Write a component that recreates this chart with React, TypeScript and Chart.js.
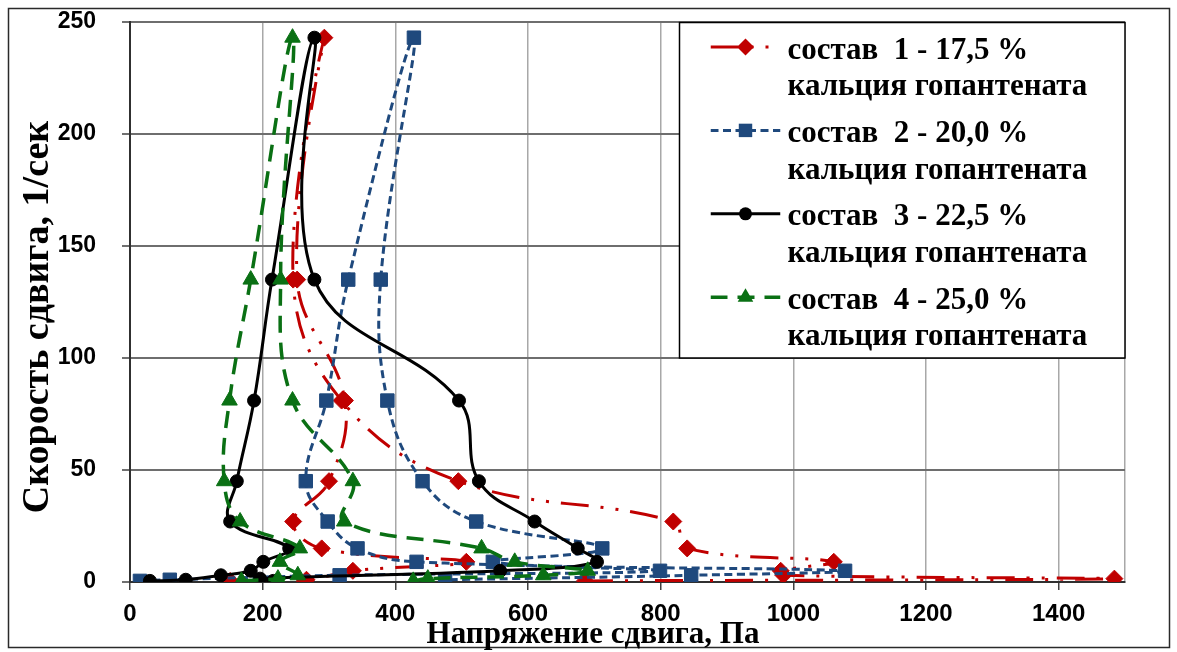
import { useEffect, useRef } from 'react';
import { Chart, registerables } from 'chart.js';

Chart.register(...registerables);

// Shear rate (1/сек) and shear stress (Па) for each run: up the rate ladder, then back down
const rate1 = [0.5, 1.5, 3, 5, 9, 15, 27, 45, 81, 135, 243, 135, 81, 45, 27, 15, 9, 5, 1, 0.5];
const stress1 = [686, 1484, 985, 981, 1061, 840, 819, 495, 319, 246, 293, 252, 324, 300, 246, 289, 507, 336, 266, 151];

const rate2 = [0.5, 1, 3, 5, 9, 15, 27, 45, 81, 135, 243, 135, 81, 45, 27, 15, 9, 5, 3, 1];
const stress2 = [15, 60, 316, 799, 547, 712, 522, 441, 388, 378, 428, 329, 296, 265, 298, 343, 432, 1078, 846, 475];

const rate3 = [0.5, 1, 3, 5, 9, 15, 27, 45, 81, 135, 243, 135, 81, 45, 27, 15, 9, 5, 1.5, 0.5];
const stress3 = [30, 84, 137, 182, 201, 240, 151, 161, 187, 214, 278, 278, 496, 526, 610, 675, 704, 558, 196, 216];

const rate4 = [0.5, 1.5, 3, 9, 15, 27, 45, 81, 135, 243, 135, 81, 45, 27, 15, 9, 5, 3, 1.5, 0.5];
const stress4 = [168, 223, 253, 226, 256, 166, 142, 150, 182, 245, 227, 245, 336, 323, 530, 580, 690, 623, 449, 427];

const seriesNames = [
  ['состав  1 - 17,5 %', 'кальция гопантената'],
  ['состав  2 - 20,0 %', 'кальция гопантената'],
  ['состав  3 - 22,5 %', 'кальция гопантената'],
  ['состав  4 - 25,0 %', 'кальция гопантената'],
];

const xTickValues = [0, 200, 400, 600, 800, 1000, 1200, 1400];
const xMax = 1500;
const yTickValues = [0, 50, 100, 150, 200, 250];
const xTitle = 'Напряжение сдвига, Па';
const yTitle = 'Скорость сдвига, 1/сек';

const RED = '#C00000';
const BLUE = '#1F497D';
const BLACK = '#000000';
const GREEN = '#0A7014';

const SERIF = '"Liberation Serif", "Times New Roman", serif';
const SANS = '"Liberation Sans", Arial, sans-serif';

const toPoints = (stress: number[], rate: number[]) => stress.map((x, i) => ({ x, y: rate[i] }));

function drawMarker(ctx: CanvasRenderingContext2D, style: string, x: number, y: number, r: number) {
  ctx.beginPath();
  if (style === 'rectRot') {
    ctx.moveTo(x, y - r);
    ctx.lineTo(x + r, y);
    ctx.lineTo(x, y + r);
    ctx.lineTo(x - r, y);
  } else if (style === 'rect') {
    const h = r * Math.SQRT1_2;
    ctx.rect(x - h, y - h, 2 * h, 2 * h);
  } else if (style === 'triangle') {
    const a = (2 * Math.PI) / 3;
    ctx.moveTo(x, y - r);
    ctx.lineTo(x + Math.sin(a) * r, y - Math.cos(a) * r);
    ctx.lineTo(x + Math.sin(2 * a) * r, y - Math.cos(2 * a) * r);
  } else {
    ctx.arc(x, y, r, 0, Math.PI * 2);
  }
  ctx.closePath();
  ctx.fill();
}

// Frame, axis titles and the boxed legend in the upper right of the plot
const decorations = {
  id: 'decorations',
  afterDraw(chart: any) {
    const { ctx, chartArea } = chart;
    ctx.save();

    // outer frame
    ctx.strokeStyle = '#2a2a2a';
    ctx.lineWidth = 1.5;
    ctx.setLineDash([]);
    ctx.strokeRect(8.5, 8.5, 1161, 639);

    // axis titles
    ctx.fillStyle = '#000';
    ctx.font = `bold 31px ${SERIF}`;
    ctx.textAlign = 'center';
    ctx.textBaseline = 'alphabetic';
    ctx.fillText(xTitle, chartArea.left + 463, chartArea.bottom + 61);

    ctx.save();
    ctx.translate(48, chartArea.top + 295);
    ctx.rotate(-Math.PI / 2);
    ctx.font = `bold 38px ${SERIF}`;
    ctx.fillText(yTitle, 0, 0);
    ctx.restore();

    // legend box
    const left = chartArea.right - 445.5;
    const top = chartArea.top + 0.5;
    const bottom = chartArea.top + 336;
    ctx.fillStyle = '#fff';
    ctx.fillRect(left, top, chartArea.right - left, bottom - top);
    ctx.strokeStyle = '#000';
    ctx.lineWidth = 1.5;
    ctx.strokeRect(left, top, chartArea.right - left, bottom - top);

    chart.data.datasets.forEach((ds: any, i: number) => {
      const base = top + 36 + i * 83.4;
      const sy = base - 11.5;
      ctx.save();
      ctx.beginPath();
      ctx.rect(left + 31, sy - 10, 70, 20);
      ctx.clip();
      ctx.strokeStyle = ds.borderColor;
      ctx.lineWidth = ds.borderWidth;
      ctx.setLineDash(ds.borderDash || []);
      ctx.beginPath();
      ctx.moveTo(left + 31, sy);
      ctx.lineTo(left + 101, sy);
      ctx.stroke();
      ctx.restore();
      ctx.fillStyle = ds.pointBackgroundColor;
      drawMarker(ctx, ds.pointStyle, left + 66, sy, ds.pointRadius);

      ctx.fillStyle = '#000';
      ctx.font = `bold 31px ${SERIF}`;
      ctx.textAlign = 'left';
      ctx.textBaseline = 'alphabetic';
      seriesNames[i].forEach((line, k) => {
        ctx.fillText(line, left + 108, base + k * 36.7);
      });
    });

    ctx.restore();
  },
};

export default function App() {
  const canvasRef = useRef<HTMLCanvasElement>(null);

  useEffect(() => {
    const canvas = canvasRef.current;
    if (!canvas) return;

    const common = { showLine: true, tension: 0.4, pointBorderWidth: 1 };

    const chart = new Chart(canvas, {
      type: 'scatter',
      data: {
        datasets: [
          {
            ...common,
            label: seriesNames[0].join(' '),
            data: toPoints(stress1, rate1),
            borderColor: RED,
            backgroundColor: RED,
            pointBackgroundColor: RED,
            pointBorderColor: RED,
            borderWidth: 3,
            borderDash: [28, 12, 3, 12, 3, 12],
            pointStyle: 'rectRot',
            pointRadius: 8.5,
            order: 3,
          },
          {
            ...common,
            label: seriesNames[1].join(' '),
            data: toPoints(stress2, rate2),
            borderColor: BLUE,
            backgroundColor: BLUE,
            pointBackgroundColor: BLUE,
            pointBorderColor: BLUE,
            borderWidth: 3,
            borderDash: [8, 4.5],
            pointStyle: 'rect',
            pointRadius: 9.5,
            order: 2,
          },
          {
            ...common,
            label: seriesNames[2].join(' '),
            data: toPoints(stress3, rate3),
            borderColor: BLACK,
            backgroundColor: BLACK,
            pointBackgroundColor: BLACK,
            pointBorderColor: BLACK,
            borderWidth: 3,
            borderDash: [],
            pointStyle: 'circle',
            pointRadius: 6.5,
            order: 1,
          },
          {
            ...common,
            label: seriesNames[3].join(' '),
            data: toPoints(stress4, rate4),
            borderColor: GREEN,
            backgroundColor: GREEN,
            pointBackgroundColor: GREEN,
            pointBorderColor: GREEN,
            borderWidth: 3.5,
            borderDash: [17, 10],
            pointStyle: 'triangle',
            pointRadius: 9,
            order: 0,
          },
        ],
      } as any,
      options: {
        responsive: false,
        maintainAspectRatio: false,
        devicePixelRatio: 1,
        animation: false,
        events: [],
        layout: { padding: { left: 0, top: 22, right: 52, bottom: 0 } },
        plugins: {
          legend: { display: false },
          tooltip: { enabled: false },
          title: { display: false },
        },
        scales: {
          x: {
            type: 'linear',
            min: 0,
            max: xMax,
            afterBuildTicks: (s: any) => {
              s.ticks = [...xTickValues, xMax].map((value) => ({ value }));
            },
            afterFit: (s: any) => {
              s.height = 70;
              s.paddingLeft = 0;
              s.paddingRight = 0;
            },
            ticks: {
              autoSkip: false,
              maxRotation: 0,
              padding: 10,
              color: '#000',
              font: { family: SANS, weight: 'bold', size: 24 },
              callback: (v: any) => (xTickValues.includes(Number(v)) ? String(v) : ''),
            },
            grid: {
              color: '#a8a8a8',
              lineWidth: 1.5,
              tickLength: 8,
              tickWidth: 1.5,
              tickColor: (c: any) => (xTickValues.includes(c.tick?.value) ? '#404040' : 'rgba(0,0,0,0)'),
            },
            border: { display: true, color: '#303030', width: 2 },
          },
          y: {
            type: 'linear',
            min: 0,
            max: 250,
            afterBuildTicks: (s: any) => {
              s.ticks = yTickValues.map((value) => ({ value }));
            },
            afterFit: (s: any) => {
              s.width = 130;
              s.paddingTop = 0;
              s.paddingBottom = 0;
            },
            ticks: {
              padding: 26,
              color: '#000',
              font: { family: SANS, weight: 'bold', size: 23 },
              callback: (v: any) => String(v),
            },
            grid: {
              color: '#6e6e6e',
              lineWidth: 2,
              tickLength: 8,
              tickWidth: 1.5,
              tickColor: '#404040',
            },
            border: { display: true, color: '#303030', width: 2 },
          },
        },
      } as any,
      plugins: [decorations],
    });

    return () => chart.destroy();
  }, []);

  return (
    <div style={{ position: 'fixed', left: 0, top: 0, width: 1177, height: 652, background: '#fff' }}>
      <canvas ref={canvasRef} width={1177} height={652} style={{ display: 'block', width: 1177, height: 652 }} />
    </div>
  );
}
